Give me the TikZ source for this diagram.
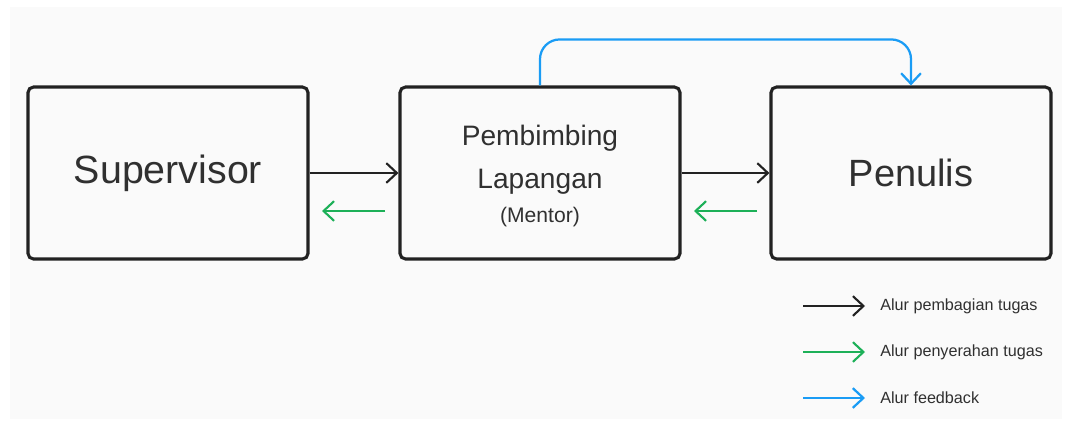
\documentclass[tikz,border=0pt]{standalone}
\usepackage{fontspec}
\setmainfont{Liberation Sans}
\usetikzlibrary{positioning, arrows.meta, calc}
\definecolor{bgcol}{HTML}{FAFAFA}
\definecolor{txtcol}{HTML}{303030}
\definecolor{linecol}{HTML}{222222}
\definecolor{greencol}{HTML}{1DB058}
\definecolor{bluecol}{HTML}{1A9CF5}
\tikzset{
  box/.style={draw=linecol, line width=2.2pt, rounded corners=4pt, fill=bgcol,
    minimum width=7cm, minimum height=4.3cm, text=txtcol, align=center},
  flowtask/.style={draw=linecol, line width=1.5pt, -{Straight Barb[length=7.5pt, width=14pt, line width=1.5pt]}},
  flowback/.style={draw=greencol, line width=1.5pt, -{Straight Barb[length=7.5pt, width=14pt, line width=1.5pt]}},
  flowfb/.style={draw=bluecol, line width=1.6pt, rounded corners=14pt, -{Straight Barb[length=7.5pt, width=14pt, line width=1.6pt]}},
  legendtext/.style={anchor=west, text=txtcol, font=\fontsize{11.5}{14}\selectfont, inner sep=0pt}
}

\begin{document}
\begin{tikzpicture}[x=0.025cm, y=-0.025cm]
\useasboundingbox (0,0) rectangle (1067,423);
\fill[white] (0,0) rectangle (1067,423);
\fill[bgcol] (10,7) rectangle (1062,419);

\node[box, font=\fontsize{28}{34}\selectfont] (sup) at (168,173) {Supervisor};
\node[box] (mentor) at (540,173) {};
\node[text=txtcol, align=center, font=\fontsize{20}{30.5}\selectfont] (mentortxt) at ([yshift=-2.2pt]mentor.center)
  {Pembimbing\\Lapangan\\[-6.5pt]{\fontsize{15}{18}\selectfont (Mentor)}};
\node[box, font=\fontsize{27}{34}\selectfont] (penulis) at (911,173) {Penulis};

\draw[flowtask] (sup.east) -- (mentor.west);
\draw[flowtask] (mentor.east) -- (penulis.west);

\coordinate (g1s) at (385,211);
\coordinate (g1e) at (322,211);
\coordinate (g2s) at (757,211);
\coordinate (g2e) at (694,211);
\draw[flowback] (g1s) -- (g1e);
\draw[flowback] (g2s) -- (g2e);

\draw[flowfb] (mentor.north) -- ++(0,-46) -| (penulis.north);

% legenda
\coordinate (l1) at (803,306);
\coordinate (l2) at (803,352);
\coordinate (l3) at (803,398);
\draw[flowtask] (l1) -- ++(62,0) coordinate (l1e);
\draw[flowback] (l2) -- ++(62,0) coordinate (l2e);
\draw[flowfb] (l3) -- ++(62,0) coordinate (l3e);
\node[legendtext, right=15 of l1e] (t1) {Alur pembagian tugas};
\node[legendtext, right=15 of l2e] (t2) {Alur penyerahan tugas};
\node[legendtext, right=15 of l3e] (t3) {Alur feedback};
\end{tikzpicture}
\end{document}
